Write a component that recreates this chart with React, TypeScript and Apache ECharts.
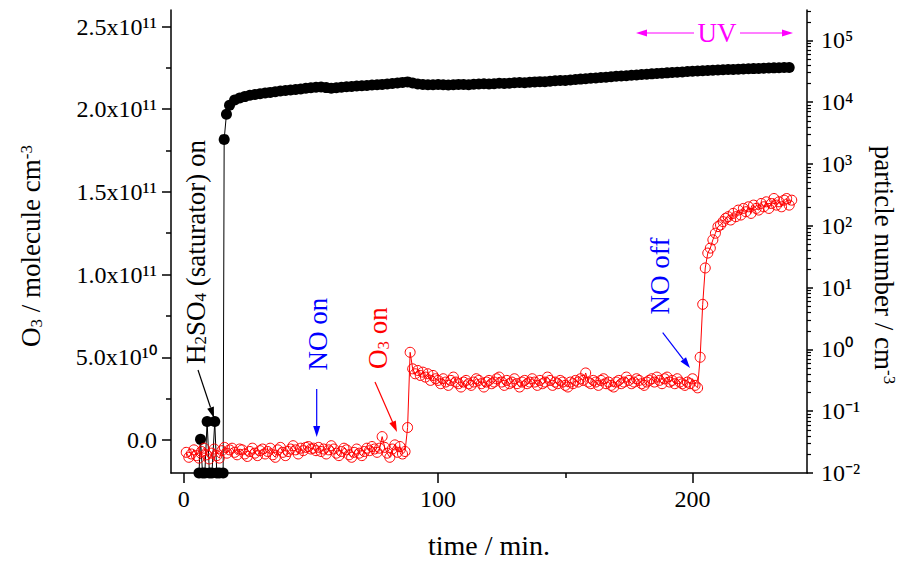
import React, { useEffect, useRef } from 'react';
import * as echarts from 'echarts';

const FONT = "'Liberation Serif', 'Times New Roman', serif";

// axes
const xMin = -5;
const xMax = 245;
const xMajorTicks = [0, 100, 200];
const xMinorTicks = [50, 150];
const o3Min = -2e10;
const o3Max = 2.6e11;
const o3MajorTicks = [0, 5e10, 1e11, 1.5e11, 2e11, 2.5e11];
const o3MinorTicks = [2.5e10, 7.5e10, 1.25e11, 1.75e11, 2.25e11];
const pnMin = 0.01;
const pnMax = 3.1e5;
const pnMajorTicks = [0.01, 0.1, 1, 10, 100, 1000, 1e4, 1e5];

// O3 series (units of 1e10 molecule cm-3), sampled every minute from t = 1 min
const o3StartMin = 1;
const o3StepMin = 1;
const o3ValuesE10 = [
  -0.75, -1.05, -0.85, -0.6, -0.95, -1.1, -0.7, -0.5, -0.9, -1.15,
  -0.8, -0.55, -0.95, -1.1, -0.65, -0.45, -0.8, -0.6, -0.5, -0.75,
  -0.9, -0.55, -0.6, -0.85, -1.0, -0.7, -0.5, -0.8, -0.95, -0.65,
  -0.55, -0.85, -0.7, -0.5, -0.9, -1.05, -0.6, -0.45, -0.75, -0.95,
  -0.7, -0.55, -0.35, -0.6, -0.85, -0.5, -0.65, -0.45, -0.4, -0.55,
  -0.5, -0.65, -0.45, -0.7, -0.55, -0.85, -0.6, -0.35, -0.55, -0.8,
  -0.95, -0.7, -0.5, -0.6, -0.9, -1.05, -0.75, -0.55, -0.8, -0.95,
  -0.7, -0.5, -0.65, -0.4, -0.55, -0.75, -0.5, 0.2, -0.45, -0.8,
  -1.05, -0.55, -0.3, -0.75, -0.4, -0.85, -0.7, 0.75, 5.3, 4.3,
  4.0, 4.2, 3.9, 4.1, 3.8, 4.0, 3.6, 3.9, 3.7, 3.6,
  3.4, 3.7, 3.5, 3.3, 3.6, 3.8, 3.5, 3.4, 3.2, 3.5,
  3.6, 3.4, 3.3, 3.5, 3.7, 3.6, 3.4, 3.2, 3.5, 3.6,
  3.4, 3.5, 3.7, 3.8, 3.5, 3.3, 3.6, 3.4, 3.5, 3.7,
  3.4, 3.2, 3.5, 3.6, 3.4, 3.5, 3.7, 3.5, 3.3, 3.6,
  3.4, 3.5, 3.8, 3.6, 3.3, 3.5, 3.4, 3.6, 3.5, 3.3,
  3.2, 3.5, 3.4, 3.6, 3.5, 3.7, 3.6, 4.05, 3.5, 3.4,
  3.6, 3.5, 3.3, 3.6, 3.7, 3.4, 3.5, 3.3, 3.2, 3.5,
  3.6, 3.4, 3.5, 3.8, 3.6, 3.4, 3.5, 3.7, 3.6, 3.4,
  3.3, 3.5, 3.6, 3.7, 3.5, 3.8, 3.6, 3.4, 3.7, 3.8,
  3.5, 3.6, 3.4, 3.7, 3.5, 3.4, 3.3, 3.5, 3.4, 3.7,
  3.3, 3.15, 5.0, 8.2, 10.4, 11.3, 11.6, 12.1, 12.5, 12.9,
  13.0, 13.2, 13.4, 13.5, 13.3, 13.7, 13.5, 13.9, 13.6, 14.0,
  13.8, 14.1, 13.7, 14.2, 14.0, 13.9, 14.3, 14.1, 14.4, 14.0,
  14.3, 14.6, 14.2, 14.4, 14.1, 14.5, 14.6, 14.2, 14.5,
];

// particle number (cm-3): early irregular points, then every 2 min from t = 18 min
const pnEarlyTime = [6.0, 6.6, 7.4, 8.3, 9.2, 10.1, 11.1, 12.2, 13.0, 14.0, 15.5, 15.9, 16.8];
const pnEarlyValue = [0.01, 0.035, 0.01, 0.01, 0.068, 0.01, 0.01, 0.068, 0.01, 0.01, 0.01, 2500, 6400];
const pnStartMin = 18;
const pnStepMin = 2;
const pnValues = [
  8900, 10800, 11700, 12300, 12900, 13300, 13700, 14100, 14400, 14800,
  15100, 15400, 15800, 16100, 16400, 16800, 17100, 17400, 17600, 17200,
  16800, 17100, 17500, 17800, 18000, 18300, 18400, 18600, 18900, 19100,
  19400, 19700, 20000, 20400, 20900, 21300, 20500, 19700, 19300, 19100,
  19200, 19300, 19100, 19000, 19200, 19400, 19300, 19200, 19500, 19600,
  19800, 19700, 19900, 20200, 20000, 20300, 20600, 20800, 20700, 21000,
  21300, 21500, 21400, 21800, 22200, 22500, 22400, 22900, 23300, 23600,
  24000, 24300, 24600, 25000, 25400, 25700, 26200, 26500, 26800, 27200,
  27600, 28000, 28400, 28700, 29100, 29500, 29800, 30200, 30600, 30900,
  31300, 31600, 31900, 32300, 32600, 32900, 33200, 33400, 33700, 33900,
  34200, 34500, 34700, 34900, 35200, 35400, 35700, 35900, 36100, 36300,
  36500,
];

const SUP: Record<string, string> = {
  '0': '\u2070', '1': '\u00B9', '2': '\u00B2', '3': '\u00B3', '4': '\u2074',
  '5': '\u2075', '6': '\u2076', '7': '\u2077', '8': '\u2078', '9': '\u2079', '-': '\u207B',
};
const toSup = (s: string) => s.split('').map((c) => SUP[c] ?? c).join('');

function arrow(x1: number, y1: number, x2: number, y2: number, color: string) {
  const a = Math.atan2(y2 - y1, x2 - x1);
  const L = 11;
  const W = 3.5;
  const c = Math.cos(a);
  const s = Math.sin(a);
  const bx = x2 - L * c;
  const by = y2 - L * s;
  return [
    { type: 'line', z: 100, shape: { x1, y1, x2: bx, y2: by }, style: { stroke: color, lineWidth: 1.2 } },
    {
      type: 'polygon', z: 100,
      shape: { points: [[x2, y2], [bx + W * s, by - W * c], [bx - W * s, by + W * c]] },
      style: { fill: color },
    },
  ];
}

function vText(x: number, y: number, text: string, color: string, rich: any, rotation = Math.PI / 2) {
  return {
    type: 'text', z: 100, x, y, rotation,
    style: { text, rich, fill: color, fontSize: 27, fontFamily: FONT, align: 'center', verticalAlign: 'middle' },
  };
}

export default function App() {
  const ref = useRef<HTMLDivElement>(null);
  useEffect(() => {
    if (!ref.current) return;
    const chart = echarts.init(ref.current, null, { renderer: 'svg' });

    const o3Data = o3ValuesE10.map((v, i) => [o3StartMin + i * o3StepMin, v * 1e10]);
    const pnData = [
      ...pnEarlyTime.map((t, i) => [t, pnEarlyValue[i]]),
      ...pnValues.map((v, i) => [pnStartMin + i * pnStepMin, v]),
    ];
    const pnMinorTicks: number[] = [];
    for (let e = -2; e <= 5; e++) {
      for (let k = 2; k <= 9; k++) {
        const v = k * Math.pow(10, e);
        if (v < pnMax) pnMinorTicks.push(v);
      }
    }

    const lineSt = { color: '#000', width: 1.5 };
    const tf = { fontSize: 24, fontFamily: FONT, color: '#000' };

    const mk = (c: string) => ({ fontSize: 27, fontFamily: FONT, color: c });
    const mkSub = (c: string) => ({ fontSize: 17, fontFamily: FONT, color: c, verticalAlign: 'bottom' });
    const mkSup = (c: string) => ({ fontSize: 17, fontFamily: FONT, color: c, verticalAlign: 'top' });

    const option: any = {
      animation: false,
      backgroundColor: '#ffffff',
      grid: { left: 171, right: 100, top: 10, bottom: 87, containLabel: false },
      xAxis: [
        {
          type: 'value', position: 'bottom', min: xMin, max: xMax,
          name: 'time / min.', nameLocation: 'middle', nameGap: 58,
          nameTextStyle: { fontSize: 28, fontFamily: FONT, color: '#000' },
          axisLine: { show: true, onZero: false, lineStyle: lineSt },
          axisTick: { show: true, length: 10, customValues: xMajorTicks, lineStyle: lineSt },
          axisLabel: { show: true, customValues: xMajorTicks, margin: 14, ...tf },
          splitLine: { show: false },
        },
        {
          type: 'value', position: 'bottom', min: xMin, max: xMax,
          axisLine: { show: false, onZero: false },
          axisTick: { show: true, length: 5, customValues: xMinorTicks, lineStyle: lineSt },
          axisLabel: { show: false },
          splitLine: { show: false },
        },
      ],
      yAxis: [
        {
          type: 'value', position: 'left', min: o3Min, max: o3Max,
          axisLine: { show: true, onZero: false, lineStyle: lineSt },
          axisTick: { show: true, length: 9, customValues: o3MajorTicks, lineStyle: lineSt },
          axisLabel: {
            show: true, customValues: o3MajorTicks, margin: 14, ...tf,
            formatter: (v: number) => {
              if (v === 0) return '0.0';
              const e = Math.floor(Math.log10(v) + 1e-9);
              const m = v / Math.pow(10, e);
              return `${m.toFixed(1)}x10${toSup(String(e))}`;
            },
          },
          splitLine: { show: false },
        },
        {
          type: 'value', position: 'left', min: o3Min, max: o3Max,
          axisLine: { show: false, onZero: false },
          axisTick: { show: true, length: 5, customValues: o3MinorTicks, lineStyle: lineSt },
          axisLabel: { show: false },
          splitLine: { show: false },
        },
        {
          type: 'log', position: 'right', min: pnMin, max: pnMax, logBase: 10,
          axisLine: { show: true, onZero: false, lineStyle: lineSt },
          axisTick: { show: true, length: 6, customValues: pnMajorTicks, lineStyle: lineSt },
          axisLabel: {
            show: true, customValues: pnMajorTicks, margin: 14, ...tf,
            formatter: (v: number) => `10${toSup(String(Math.round(Math.log10(v))))}`,
          },
          splitLine: { show: false },
          minorTick: { show: false },
        },
        {
          type: 'log', position: 'right', min: pnMin, max: pnMax, logBase: 10,
          axisLine: { show: false, onZero: false },
          axisTick: { show: true, length: 4, customValues: pnMinorTicks, lineStyle: { color: '#000', width: 1.2 } },
          axisLabel: { show: false },
          splitLine: { show: false },
        },
      ],
      series: [
        {
          name: 'particle number', type: 'line', xAxisIndex: 0, yAxisIndex: 2,
          data: pnData, symbol: 'circle', symbolSize: 11, showSymbol: true,
          itemStyle: { color: '#000' }, lineStyle: { color: '#000', width: 1 },
          z: 2,
        },
        {
          name: 'O3', type: 'line', xAxisIndex: 0, yAxisIndex: 0,
          data: o3Data, symbol: 'circle', symbolSize: 10, showSymbol: true,
          itemStyle: { color: 'rgba(255,255,255,0)', borderColor: '#ff0000', borderWidth: 1 },
          lineStyle: { color: '#ff0000', width: 1 },
          z: 3,
        },
      ],
      graphic: [
        vText(31, 246, '{r|O}{rs|3}{k| / molecule cm}{ks|-3}', '#000', { r: mk('#ff0000'), rs: mkSub('#ff0000'), k: mk('#000'), ks: mkSup('#000') }),
        vText(884, 265, '{k|particle number / cm}{ks|-3}', '#000', { k: mk('#000'), ks: mkSup('#000') }, -Math.PI / 2),
        vText(195.5, 252, '{n|H}{b|2}{n|SO}{b|4}{n| (saturator) on}', '#000', { n: mk('#000'), b: mkSub('#000') }),
        ...arrow(198, 370, 214, 418, '#000'),
        vText(318, 334, 'NO on', '#0000ff', null),
        ...arrow(316.7, 389, 316.7, 437, '#0000ff'),
        vText(378, 338, '{n|O}{b|3}{n| on}', '#ff0000', { n: mk('#ff0000'), b: mkSub('#ff0000') }),
        ...arrow(375, 382, 397, 432, '#ff0000'),
        vText(660, 276, 'NO off', '#0000ff', null),
        ...arrow(662.7, 332.7, 690, 368, '#0000ff'),
        {
          type: 'text', z: 100, x: 717, y: 33,
          style: { text: 'UV', fill: '#ff00ff', fontSize: 27, fontFamily: FONT, align: 'center', verticalAlign: 'middle' },
        },
        ...arrow(694, 33, 636, 33, '#ff00ff'),
        ...arrow(740, 33, 793, 33, '#ff00ff'),
      ],
    };
    chart.setOption(option);
    return () => chart.dispose();
  }, []);
  return <div ref={ref} style={{ position: 'absolute', left: 0, top: 0, width: 907, height: 564 }} />;
}
